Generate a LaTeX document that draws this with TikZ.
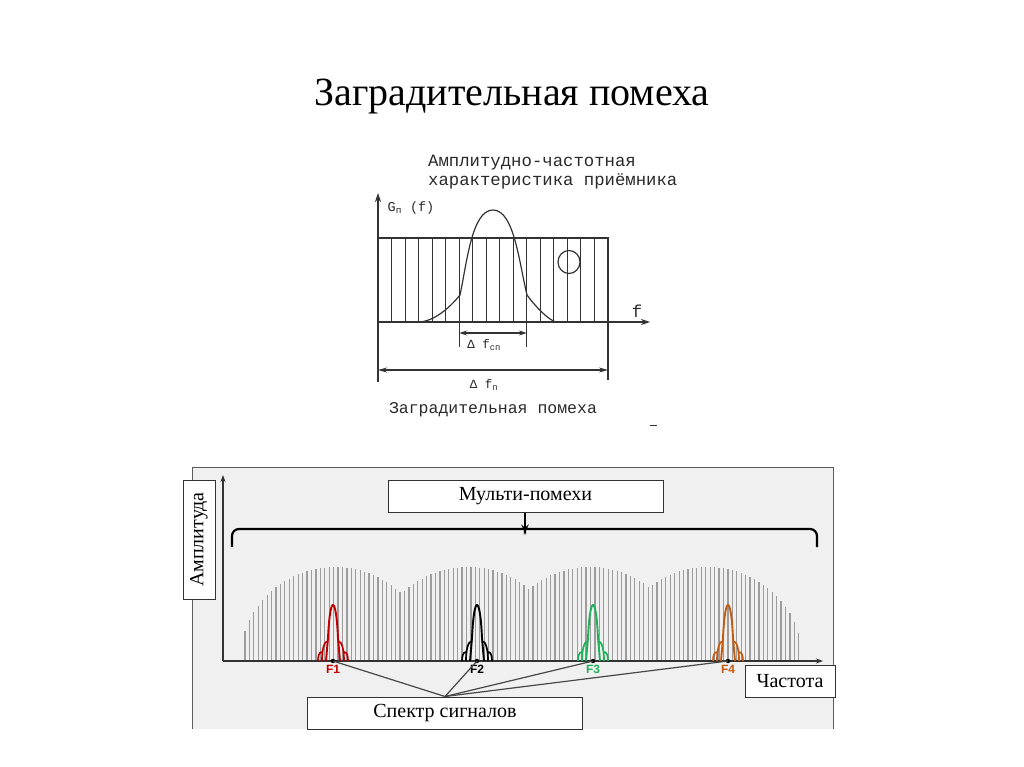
\documentclass[tikz,border=0pt]{standalone}
\usepackage{fontspec}
\setmainfont{Liberation Serif}
\newfontfamily\chartfont{Liberation Mono}
\newfontfamily\tagfont{Liberation Sans}
\definecolor{SIGred}{HTML}{C00000}
\definecolor{SIGgreen}{HTML}{21B05A}
\definecolor{SIGbrown}{HTML}{C55A11}
\definecolor{BARgray}{HTML}{9C9C9C}
\definecolor{PANELgray}{HTML}{F0F0F0}
\definecolor{INKgray}{HTML}{333333}
\usetikzlibrary{arrows.meta, positioning, calc}

\tikzset{
  chartline/.style={INKgray, line width=1.2pt},
  chartaxis/.style={chartline, -{Stealth[length=9pt, width=6pt]}},
  charttext/.style={font=\chartfont\fontsize{17.3}{19}\selectfont, text=INKgray!80!black, inner sep=0pt},
  labelbox/.style={draw=INKgray, fill=white, line width=1pt, inner sep=0pt,
    font=\fontsize{20}{22}\selectfont},
  panelaxis/.style={INKgray, line width=1.2pt, -{Stealth[length=7pt, width=5pt]}},
  pointer/.style={draw=INKgray!90, line width=1.2pt}
}

\begin{document}
\begin{tikzpicture}[x=1pt, y=-1pt]
\useasboundingbox (0,0) rectangle (1024,767);
% Title
\node[font=\fontsize{40}{44}\selectfont] (title) at (512,97) {Заградительная помеха};

% Receiver response and barrage jamming
\node[charttext, anchor=west, align=left] (response) at (428,172)
   {Амплитудно-частотная\\характеристика приёмника};
\draw[chartaxis] (378,382) -- (378,193);
\draw[chartaxis] (378,322) -- (650,322);
\node[charttext, font=\chartfont\fontsize{13.5}{15}\selectfont] (gaxis) at (411,208) {G\textsubscript{п} (f)};
\node[charttext] (faxis) at (637,311) {f};
\draw[chartline] (378,238) -- (608,238) -- (608,380);
\foreach \k in {1,...,16}
   \draw[INKgray, line width=1pt] (378+13.53*\k,238) -- (378+13.53*\k,322);
\draw[INKgray, line width=1pt] (459.2,322) -- (459.2,347);
\draw[INKgray, line width=1pt] (526.8,322) -- (526.8,347);
% receiver curve
\draw[chartline] (418,322) .. controls (435,322) and (452,305) .. (460,295)
   .. controls (467,262) and (472,210) .. (493,210)
   .. controls (514,210) and (519,262) .. (527,295)
   .. controls (534,305) and (550,322) .. (557,322);
\draw[chartline] (569,262) circle[x radius=11, y radius=11.5];
% bandwidths
\draw[chartline, {Stealth[length=8pt, width=5pt]}-{Stealth[length=8pt, width=5pt]}] (459.2,333) -- (526.8,333);
\node[charttext, font=\chartfont\fontsize{12.5}{14}\selectfont] (dfsig) at (484,345) {Δ f\textsubscript{сп}};
\draw[chartline, {Stealth[length=9pt, width=5pt]}-{Stealth[length=9pt, width=5pt]}] (378,370) -- (608,370);
\node[charttext, font=\chartfont\fontsize{12.5}{14}\selectfont] (dfjam) at (484,385) {Δ f\textsubscript{п}};
\node[charttext, font=\chartfont\fontsize{16.5}{18}\selectfont] (caption) at (493,410) {Заградительная помеха};
\draw[INKgray, line width=1pt] (650,425) -- (657,425);

% Multi-jamming panel
\fill[PANELgray] (192,467) rectangle (833,729);
\draw[INKgray!80, line width=1pt] (192,729) -- (192,467) -- (833,467) -- (833,729);
% jamming bars
\foreach \i in {0,...,126} {
   \pgfmathsetmacro\bx{245+\i*4.43}
   \pgfmathsetmacro\ha{94*sqrt(max(0,1-((\bx-335)/95)*((\bx-335)/95)))}
   \pgfmathsetmacro\hb{94*sqrt(max(0,1-((\bx-468)/95)*((\bx-468)/95)))}
   \pgfmathsetmacro\hc{94*sqrt(max(0,1-((\bx-590)/95)*((\bx-590)/95)))}
   \pgfmathsetmacro\hd{94*sqrt(max(0,1-((\bx-708)/95)*((\bx-708)/95)))}
   \pgfmathsetmacro\bh{max(\ha,\hb,\hc,\hd)}
   \draw[BARgray, line width=1.25pt] (\bx,661) -- (\bx,661-\bh);
}
\draw[panelaxis] (223,661) -- (223,475);
\draw[panelaxis] (223,661) -- (823,661);
% signal spectra
\foreach \px/\pc/\pn in {333/SIGred/1, 477/black/2, 593/SIGgreen/3, 728/SIGbrown/4} {
   \draw[\pc, line width=1.9pt, line join=round]
      (\px-7,661) -- (\px-5,638) .. controls (\px-3,594) and (\px+3,594) .. (\px+5,638) -- (\px+7,661);
   \draw[\pc, line width=1.7pt]
      (\px-5,641) .. controls (\px-9,641) and (\px-11,650) .. (\px-11,661)
      (\px-11,652) .. controls (\px-14,652) and (\px-15,656) .. (\px-15,661)
      (\px+5,641) .. controls (\px+9,641) and (\px+11,650) .. (\px+11,661)
      (\px+11,652) .. controls (\px+14,652) and (\px+15,656) .. (\px+15,661);
   \coordinate (f\pn) at (\px,661);
   \fill (f\pn) circle (2.2);
   \node[font=\tagfont\bfseries\fontsize{12}{14}\selectfont, text=\pc, inner sep=0pt,
      below=4pt of f\pn] (tag\pn) {F\pn};
}
% labels
\node[labelbox, rotate=90, minimum width=119, minimum height=32] (ampl) at (199,539.5) {Амплитуда};
\node[labelbox, minimum width=275, minimum height=32] (multi) at (525.5,496) {Мульти-помехи};
\node[labelbox, minimum width=90, minimum height=32] (freq) at (790,681) {Частота};
\node[labelbox, minimum width=275, minimum height=32] (spectrum) at (445,713) {Спектр сигналов};
% brace under the multi label
\coordinate (braceL) at (232,547);
\coordinate (braceR) at (817,547);
\coordinate (braceTip) at (525,523);
\draw[line width=2.2pt, rounded corners=7pt] (braceL) -- (232,529) -- (518,529)
   .. controls (523,529) and (525,527) .. (braceTip)
   .. controls (525,527) and (527,529) .. (532,529) -- (817,529) -- (braceR);
\draw[line width=2.2pt] (525,527) -- (multi.south -| braceTip);
% pointers to the carriers
\foreach \pn in {1,...,4}
   \draw[pointer] (spectrum.north) -- (f\pn);
\end{tikzpicture}
\end{document}
